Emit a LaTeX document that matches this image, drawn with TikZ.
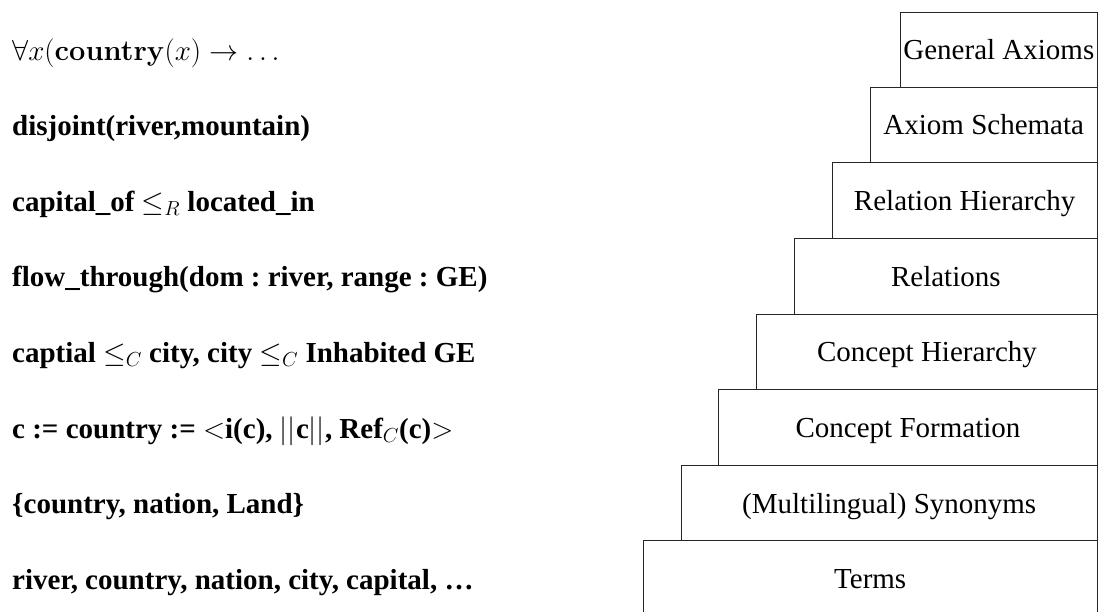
\documentclass[tikz,border=0pt]{standalone}
\usepackage{fix-cm}
\usepackage[no-math]{fontspec}
\setmainfont{Liberation Serif}
\begin{document}
\frenchspacing
\begin{tikzpicture}[x=1pt,y=-1pt,
  layerbox/.style={draw=black!85, line width=1pt, anchor=east, inner sep=0pt,
    minimum height=75.5pt, text height=20pt, text depth=0pt,
    font=\fontsize{29}{34}\selectfont},
  example/.style={anchor=base west, inner sep=0pt,
    font=\fontsize{29}{34}\selectfont\bfseries}]
\useasboundingbox (0,0) rectangle (1100,612);

% stacked layers, widest at the bottom
\node[layerbox, minimum width=454pt] (terms) at (1097.7,578.5) {Terms};
\node[layerbox, minimum width=416pt] (syn)   at (1097.7,503.0) {(Multilingual) Synonyms};
\node[layerbox, minimum width=378.4pt] (cform) at (1097.7,427.4) {Concept Formation};
\node[layerbox, minimum width=340.4pt] (chier) at (1097.7,351.8) {Concept Hierarchy};
\node[layerbox, minimum width=302.7pt] (rel)   at (1097.7,276.4) {Relations};
\node[layerbox, minimum width=265pt]   (rhier) at (1097.7,200.7) {Relation Hierarchy};
\node[layerbox, minimum width=227pt]   (schema) at (1097.7,125.0) {Axiom Schemata};
\node[layerbox, minimum width=196.7pt] (axioms) at (1097.7,49.8) {General Axioms};

% examples for each layer
\node[example] (ex8) at (12,61.0)  {$\forall x(\mathbf{country}(x)\rightarrow\ldots$};
\node[example] (ex7) at (12,136.0) {disjoint(river,mountain)};
\node[example] (ex6) at (12,211.5) {capital\_of $\leq_R$ located\_in};
\node[example] (ex5) at (12,287.0) {flow\_through(dom : river, range : GE)};
\node[example] (ex4) at (12,362.5) {captial $\leq_C$ city, city $\leq_C$ Inhabited GE};
\node[example] (ex3) at (12,438.0) {c := country := $<$i(c), $||$c$||$, Ref$_C$(c)$>$};
\node[example] (ex2) at (12,513.5) {\{country, nation, Land\}};
\node[example] (ex1) at (12,589.0) {river, country, nation, city, capital, …};
\end{tikzpicture}
\end{document}
